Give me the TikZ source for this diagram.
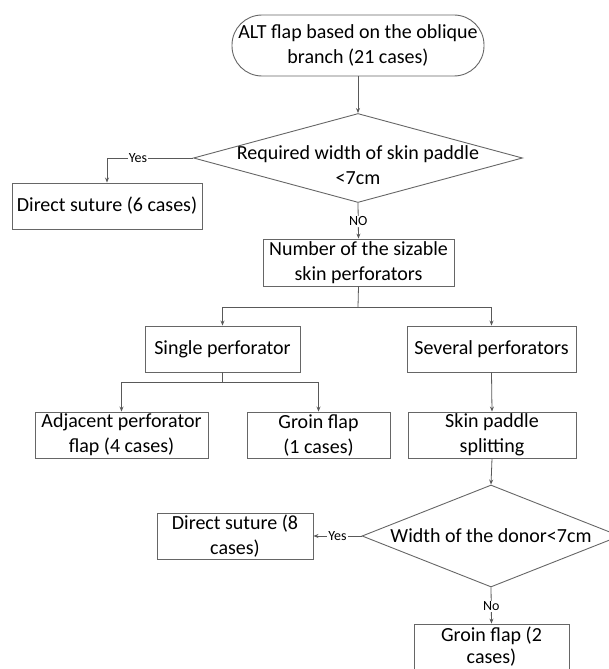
\documentclass[tikz,border=0pt]{standalone}
\usepackage{fontspec}
\setmainfont{Carlito}
\usetikzlibrary{arrows.meta,shapes.geometric}
\begin{document}
\begin{tikzpicture}[x=1pt,y=1pt,yscale=-1,
  every node/.style={font=\fontsize{20}{25}\selectfont},
  box/.style={draw=black!60, line width=0.9pt, inner sep=0pt, minimum height=46pt, align=center},
  terminal/.style={box, rounded corners=30pt, minimum height=61pt},
  decision/.style={diamond, draw=black!60, line width=0.9pt, inner sep=0pt},
  link/.style={draw=black!65, line width=0.8pt},
  arr/.style={link, -{Stealth[length=5pt,width=4pt]}},
  tag/.style={font=\fontsize{14}{16}\selectfont, fill=white, inner sep=1pt}]
\useasboundingbox (0,0) rectangle (608,669);

%Shape: Terminal
\node[terminal, minimum width=252pt] (start) at (358,45.5) {ALT flap based on the oblique\\branch (21 cases)};

%Shape: Diamond
\node[decision, minimum width=329pt, minimum height=89pt] (width1) at (358,158) {};
\node[align=center] (width1txt) at (358,165) {Required width of skin paddle\\<7cm};

%Shape: Rectangle
\node[box, minimum width=190pt] (suture6) at (107,206) {Direct suture (6 cases)};
\node[box, minimum width=191pt, minimum height=47pt] (number) at (358.5,262.5) {Number of the sizable\\skin perforators};
\node[box, minimum width=155pt] (single) at (222.5,349) {Single perforator};
\node[box, minimum width=169pt] (several) at (491.5,349) {Several perforators};
\node[box, minimum width=173pt] (adjacent) at (121.5,435) {Adjacent perforator\\flap (4 cases)};
\node[box, minimum width=143pt] (groin1) at (318.5,435) {Groin flap\\(1 cases)};
\node[box, minimum width=168pt] (splitting) at (492,435) {Skin paddle\\splitting};

%Shape: Diamond
\node[decision, minimum width=258pt, minimum height=102pt] (width2) at (491,536) {};
\node (width2txt) at (491,536) {Width of the donor<7cm};

%Shape: Rectangle
\node[box, minimum width=156pt] (suture8) at (235,536) {Direct suture (8\\cases)};
\node[box, minimum width=155pt, font=\fontsize{20}{22}\selectfont] (groin2) at (491.5,647) {Groin flap (2\\cases)};

%Split points
\coordinate (split1) at (358,307);
\coordinate (split2) at (222.5,382);

%Straight Lines
\draw[arr] (start.south) -- (width1.north);
\draw[arr] (width1.west) -| node[tag, pos=0.32] {Yes} (suture6.north);
\draw[arr] (width1.south) -- node[tag, pos=0.52] {NO} (number.north);
\draw[link] (number.south) -- (split1);
\draw[arr] (split1) -| (single.north);
\draw[arr] (split1) -| (several.north);
\draw[link] (single.south) -- (split2);
\draw[arr] (split2) -| (adjacent.north);
\draw[arr] (split2) -| (groin1.north);
\draw[arr] (several.south) -- (splitting.north);
\draw[arr] (splitting.south) -- (width2.north);
\draw[arr] (width2.west) -- node[tag] {Yes} (suture8.east);
\draw[arr] (width2.south) -- node[tag, pos=0.52] {No} (groin2.north);

\end{tikzpicture}
\end{document}
